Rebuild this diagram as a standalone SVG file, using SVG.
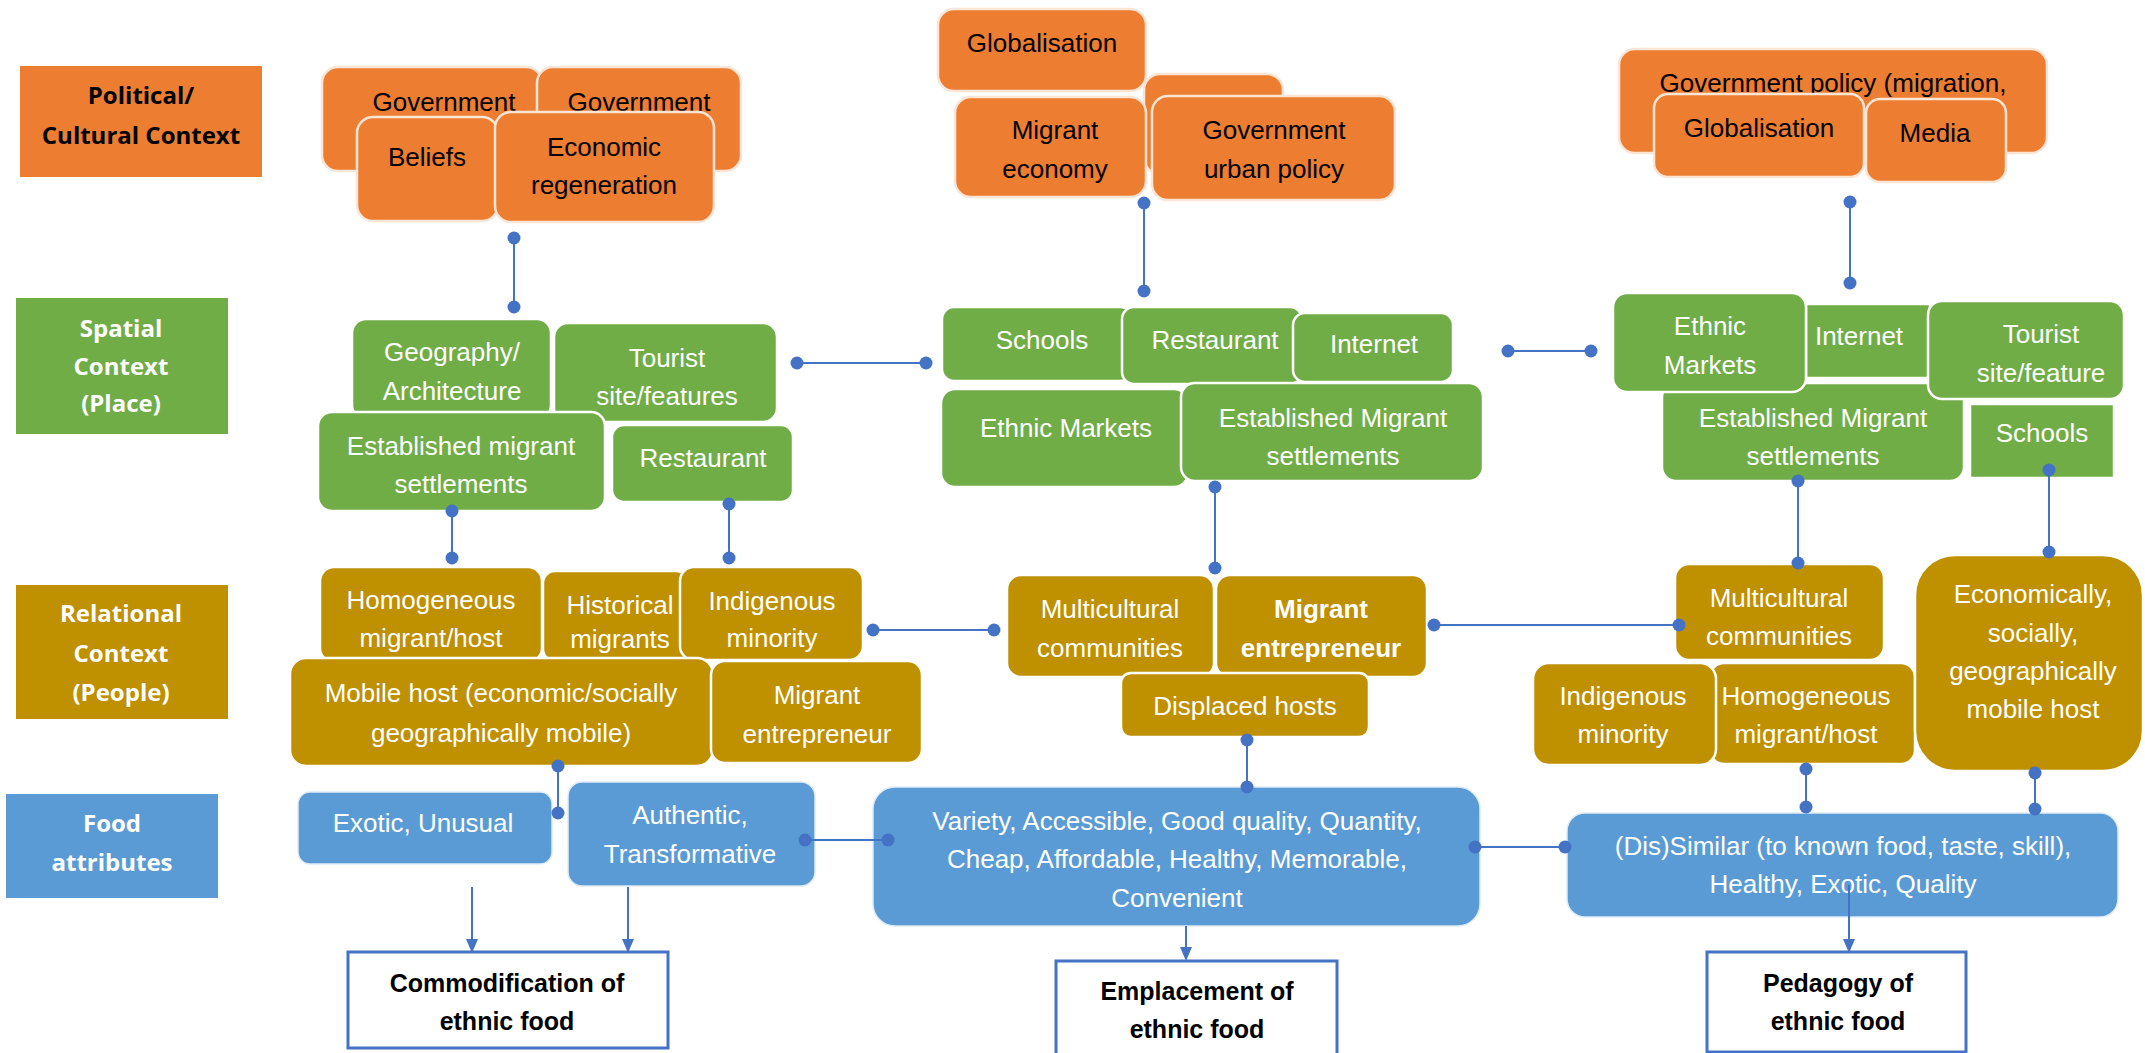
<svg xmlns="http://www.w3.org/2000/svg" width="2145" height="1053" viewBox="0 0 2145 1053">
<defs>
<style>
.or{fill:#ED7D31;stroke:#FBE5D6;stroke-width:2.5}
.gr{fill:#70AD47;stroke:#FFFFFF;stroke-width:2.5}
.go{fill:#BF9000;stroke:#FFFFFF;stroke-width:2.5}
.bl{fill:#5B9BD5;stroke:#DEEBF7;stroke-width:1.5}
.out{fill:#FFFFFF;stroke:#4472C4;stroke-width:3}
.t{font-family:"Liberation Sans",Arial,sans-serif;font-size:26px;text-anchor:middle;fill:#FFFFFF}
.tk{fill:#000000}
.tb{font-weight:bold}
.lb{font-family:"Open Sans","Liberation Sans",sans-serif;font-weight:700;font-size:24px;text-anchor:middle;fill:#FFFFFF}
.ob{font-family:"Liberation Sans",Arial,sans-serif;font-weight:bold;font-size:25px;text-anchor:middle;fill:#000000}
.c{stroke:#4472C4;stroke-width:2;fill:none}
</style>
<marker id="dot" viewBox="0 0 14 14" refX="7" refY="7" markerWidth="14" markerHeight="14" markerUnits="userSpaceOnUse"><circle cx="7" cy="7" r="6.5" fill="#4472C4"/></marker>
<marker id="arr" viewBox="0 0 12 14" refX="6" refY="13" markerWidth="12" markerHeight="14" markerUnits="userSpaceOnUse" orient="auto-start-reverse"><path d="M0,0 L12,0 L6,14 Z" fill="#4472C4" transform="rotate(-90 6 7) translate(0 0)"/></marker>
</defs>

<g id="labels">
<g id="lbl-political"><rect x="20" y="66" width="242" height="111" fill="#ED7D31"/><text class="lb" x="141" y="104" style="fill:#000">Political/</text><text class="lb" x="141" y="144" style="fill:#000">Cultural Context</text></g>
<g id="lbl-spatial"><rect x="16" y="298" width="212" height="136" fill="#70AD47"/><text class="lb" x="121" y="337">Spatial</text><text class="lb" x="121" y="375">Context</text><text class="lb" x="121" y="412">(Place)</text></g>
<g id="lbl-relational"><rect x="16" y="585" width="212" height="134" fill="#BF9000"/><text class="lb" x="121" y="622">Relational</text><text class="lb" x="121" y="662">Context</text><text class="lb" x="121" y="701">(People)</text></g>
<g id="lbl-food"><rect x="6" y="794" width="212" height="104" fill="#5B9BD5"/><text class="lb" x="112" y="832">Food</text><text class="lb" x="112" y="871">attributes</text></g>
</g>

<g id="n-gov1"><rect class="or" x="322" y="67" width="220" height="104" rx="16"/><text class="t tk" x="444" y="111">Government</text></g>
<g id="n-gov2"><rect class="or" x="537" y="67" width="204" height="104" rx="16"/><text class="t tk" x="639" y="111">Government</text></g>
<g id="n-beliefs"><rect class="or" x="357" y="117" width="141" height="104" rx="16"/><text class="t tk" x="427" y="166">Beliefs</text></g>
<g id="n-econ"><rect class="or" x="495" y="112" width="219" height="110" rx="16"/><text class="t tk" x="604" y="156">Economic</text><text class="t tk" x="604" y="194">regeneration</text></g>

<g id="n-hidden"><rect class="or" x="1144" y="74" width="139" height="100" rx="16"/></g>
<g id="n-glob1"><rect class="or" x="938" y="9" width="208" height="82" rx="16"/><text class="t tk" x="1042" y="52">Globalisation</text></g>
<g id="n-migecon"><rect class="or" x="955" y="97" width="191" height="100" rx="16"/><text class="t tk" x="1055" y="139">Migrant</text><text class="t tk" x="1055" y="178">economy</text></g>
<g id="n-govurban"><rect class="or" x="1152" y="96" width="243" height="104" rx="16"/><text class="t tk" x="1274" y="139">Government</text><text class="t tk" x="1274" y="178">urban policy</text></g>

<g id="n-govpol"><rect class="or" x="1619" y="49" width="428" height="104" rx="16"/><text class="t tk" x="1833" y="92">Government policy (migration,</text></g>
<g id="n-glob2"><rect class="or" x="1654" y="94" width="210" height="83" rx="14"/><text class="t tk" x="1759" y="137">Globalisation</text></g>
<g id="n-media"><rect class="or" x="1866" y="99" width="140" height="83" rx="14"/><text class="t tk" x="1935" y="142">Media</text></g>

<g id="n-geo"><rect class="gr" x="352" y="319" width="199" height="100" rx="14"/><text class="t" x="452" y="361">Geography/</text><text class="t" x="452" y="400">Architecture</text></g>
<g id="n-tour1"><rect class="gr" x="554" y="323" width="223" height="99" rx="14"/><text class="t" x="667" y="367">Tourist</text><text class="t" x="667" y="405">site/features</text></g>
<g id="n-est1"><rect class="gr" x="318" y="412" width="287" height="99" rx="14"/><text class="t" x="461" y="455">Established migrant</text><text class="t" x="461" y="493">settlements</text></g>
<g id="n-rest1"><rect class="gr" x="612" y="425" width="181" height="77" rx="12"/><text class="t" x="703" y="467">Restaurant</text></g>

<g id="n-schools1"><rect class="gr" x="942" y="307" width="190" height="74" rx="12"/><text class="t" x="1042" y="349">Schools</text></g>
<g id="n-rest2"><rect class="gr" x="1122" y="307" width="180" height="77" rx="12"/><text class="t" x="1215" y="349">Restaurant</text></g>
<g id="n-inet1"><rect class="gr" x="1293" y="313" width="160" height="69" rx="12"/><text class="t" x="1374" y="353">Internet</text></g>
<g id="n-ethnic1"><rect class="gr" x="941" y="389" width="247" height="98" rx="14"/><text class="t" x="1066" y="437">Ethnic Markets</text></g>
<g id="n-est2"><rect class="gr" x="1181" y="383" width="302" height="98" rx="14"/><text class="t" x="1333" y="427">Established Migrant</text><text class="t" x="1333" y="465">settlements</text></g>

<g id="n-est3"><rect class="gr" x="1662" y="383" width="302" height="98" rx="14"/><text class="t" x="1813" y="427">Established Migrant</text><text class="t" x="1813" y="465">settlements</text></g>
<g id="n-inet2"><rect class="gr" x="1806" y="304" width="124" height="74"/><text class="t" x="1859" y="345">Internet</text></g>
<g id="n-ethnic2"><rect class="gr" x="1613" y="293" width="193" height="99" rx="14"/><text class="t" x="1710" y="335">Ethnic</text><text class="t" x="1710" y="374">Markets</text></g>
<g id="n-tour2"><rect class="gr" x="1928" y="301" width="196" height="98" rx="14"/><text class="t" x="2041" y="343">Tourist</text><text class="t" x="2041" y="382">site/feature</text></g>
<g id="n-schools2"><rect class="gr" x="1970" y="404" width="144" height="74"/><text class="t" x="2042" y="442">Schools</text></g>

<g id="n-homo1"><rect class="go" x="320" y="567" width="222" height="95" rx="14"/><text class="t" x="431" y="609">Homogeneous</text><text class="t" x="431" y="647">migrant/host</text></g>
<g id="n-hist"><rect class="go" x="543" y="571" width="145" height="90" rx="12"/><text class="t" x="620" y="614">Historical</text><text class="t" x="620" y="648">migrants</text></g>
<g id="n-indig1"><rect class="go" x="680" y="567" width="183" height="93" rx="14"/><text class="t" x="772" y="610">Indigenous</text><text class="t" x="772" y="647">minority</text></g>
<g id="n-mobile"><rect class="go" x="290" y="658" width="423" height="108" rx="16"/><text class="t" x="501" y="702">Mobile host (economic/socially</text><text class="t" x="501" y="742">geographically mobile)</text></g>
<g id="n-ment1"><rect class="go" x="711" y="661" width="211" height="102" rx="14"/><text class="t" x="817" y="704">Migrant</text><text class="t" x="817" y="743">entrepreneur</text></g>

<g id="n-multi1"><rect class="go" x="1007" y="575" width="207" height="102" rx="14"/><text class="t" x="1110" y="618">Multicultural</text><text class="t" x="1110" y="657">communities</text></g>
<g id="n-ment2"><rect class="go" x="1216" y="575" width="211" height="102" rx="14"/><text class="t tb" x="1321" y="618">Migrant</text><text class="t tb" x="1321" y="657">entrepreneur</text></g>
<g id="n-displaced"><rect class="go" x="1121" y="673" width="248" height="64" rx="10"/><text class="t" x="1245" y="715">Displaced hosts</text></g>

<g id="n-multi2"><rect class="go" x="1675" y="564" width="209" height="96" rx="14"/><text class="t" x="1779" y="607">Multicultural</text><text class="t" x="1779" y="645">communities</text></g>
<g id="n-homo2"><rect class="go" x="1710" y="663" width="205" height="101" rx="14"/><text class="t" x="1806" y="705">Homogeneous</text><text class="t" x="1806" y="743">migrant/host</text></g>
<g id="n-indig2"><rect class="go" x="1533" y="663" width="183" height="102" rx="16"/><text class="t" x="1623" y="705">Indigenous</text><text class="t" x="1623" y="743">minority</text></g>
<g id="n-econmob"><rect class="go" x="1915" y="555" width="228" height="216" rx="40"/><text class="t" x="2033" y="603">Economically,</text><text class="t" x="2033" y="642">socially,</text><text class="t" x="2033" y="680">geographically</text><text class="t" x="2033" y="718">mobile host</text></g>

<g id="n-exotic"><rect class="bl" x="298" y="792" width="254" height="72" rx="12"/><text class="t" x="423" y="832">Exotic, Unusual</text></g>
<g id="n-auth"><rect class="bl" x="568" y="782" width="247" height="104" rx="14"/><text class="t" x="690" y="824">Authentic,</text><text class="t" x="690" y="863">Transformative</text></g>
<g id="n-variety"><rect class="bl" x="873" y="787" width="607" height="139" rx="22"/><text class="t" x="1177" y="830">Variety, Accessible, Good quality, Quantity,</text><text class="t" x="1177" y="868">Cheap, Affordable, Healthy, Memorable,</text><text class="t" x="1177" y="907">Convenient</text></g>
<g id="n-dissim"><rect class="bl" x="1567" y="813" width="551" height="104" rx="18"/><text class="t" x="1843" y="855">(Dis)Similar (to known food, taste, skill),</text><text class="t" x="1843" y="893">Healthy, Exotic, Quality</text></g>

<g id="n-commod"><rect class="out" x="348" y="952" width="320" height="96"/><text class="ob" x="507" y="992">Commodification of</text><text class="ob" x="507" y="1030">ethnic food</text></g>
<g id="n-emplace"><rect class="out" x="1056" y="961" width="281" height="100"/><text class="ob" x="1197" y="1000">Emplacement of</text><text class="ob" x="1197" y="1038">ethnic food</text></g>
<g id="n-pedagogy"><rect class="out" x="1707" y="952" width="259" height="100"/><text class="ob" x="1838" y="992">Pedagogy of</text><text class="ob" x="1838" y="1030">ethnic food</text></g>

<g id="connectors">
<g class="c" marker-start="url(#dot)" marker-end="url(#dot)">
<line x1="514" y1="238" x2="514" y2="307"/>
<line x1="1144" y1="203" x2="1144" y2="291"/>
<line x1="1850" y1="202" x2="1850" y2="283"/>
<line x1="797" y1="363" x2="926" y2="363"/>
<line x1="1508" y1="351" x2="1591" y2="351"/>
<line x1="452" y1="511" x2="452" y2="558"/>
<line x1="729" y1="504" x2="729" y2="558"/>
<line x1="1215" y1="487" x2="1215" y2="568"/>
<line x1="1798" y1="481" x2="1798" y2="563"/>
<line x1="2049" y1="470" x2="2049" y2="552"/>
<line x1="873" y1="630" x2="994" y2="630"/>
<line x1="1434" y1="625" x2="1679" y2="625"/>
<line x1="558" y1="766" x2="558" y2="813"/>
<line x1="1247" y1="740" x2="1247" y2="787"/>
<line x1="805" y1="840" x2="888" y2="840"/>
<line x1="1475" y1="847" x2="1565" y2="847"/>
<line x1="1806" y1="769" x2="1806" y2="807"/>
<line x1="2035" y1="773" x2="2035" y2="809"/>
</g>
<g class="c">
<line x1="472" y1="887" x2="472" y2="940"/>
<line x1="628" y1="887" x2="628" y2="940"/>
<line x1="1186" y1="926" x2="1186" y2="948"/>
<line x1="1849" y1="885" x2="1849" y2="940"/>
</g>
<g fill="#4472C4">
<path d="M466,939 L478,939 L472,953 Z"/>
<path d="M622,939 L634,939 L628,953 Z"/>
<path d="M1180,947 L1192,947 L1186,961 Z"/>
<path d="M1843,939 L1855,939 L1849,953 Z"/>
</g>
</g>
</svg>
